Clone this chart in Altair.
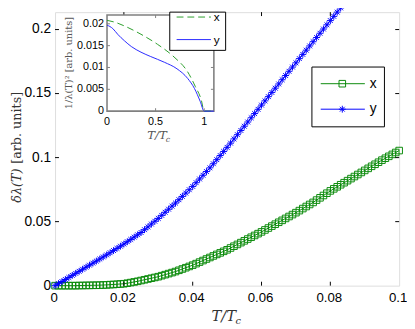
import altair as alt
import pandas as pd

# ---------------- data ----------------
SERIES = ["x", "y"]
T_MAIN = [i / 1000 for i in range(101)]
X_VALUES = [
    0.0000, 0.0000, 0.0000, 0.0000, 0.0000, 0.0000, 0.0000, 0.0001, 0.0001, 0.0002,
    0.0002, 0.0003, 0.0003, 0.0004, 0.0005, 0.0006, 0.0008, 0.0009, 0.0011, 0.0013,
    0.0015, 0.0019, 0.0024, 0.0029, 0.0034, 0.0040, 0.0046, 0.0052, 0.0058, 0.0064,
    0.0070, 0.0078, 0.0086, 0.0094, 0.0102, 0.0110, 0.0120, 0.0130, 0.0140, 0.0150,
    0.0160, 0.0172, 0.0184, 0.0196, 0.0208, 0.0220, 0.0232, 0.0244, 0.0256, 0.0268,
    0.0280, 0.0294, 0.0308, 0.0322, 0.0336, 0.0350, 0.0364, 0.0378, 0.0392, 0.0406,
    0.0420, 0.0435, 0.0450, 0.0465, 0.0480, 0.0495, 0.0510, 0.0525, 0.0540, 0.0555,
    0.0570, 0.0586, 0.0602, 0.0618, 0.0634, 0.0650, 0.0668, 0.0686, 0.0704, 0.0722,
    0.0740, 0.0756, 0.0772, 0.0788, 0.0804, 0.0820, 0.0836, 0.0852, 0.0868, 0.0884,
    0.0900, 0.0916, 0.0932, 0.0948, 0.0964, 0.0980, 0.0995, 0.1010, 0.1025, 0.1040,
    0.1055,
]
Y_VALUES = [
    0.0000, 0.0016, 0.0032, 0.0048, 0.0064, 0.0080, 0.0096, 0.0112, 0.0128, 0.0144,
    0.0160, 0.0176, 0.0192, 0.0208, 0.0224, 0.0240, 0.0257, 0.0274, 0.0291, 0.0308,
    0.0325, 0.0343, 0.0361, 0.0379, 0.0397, 0.0415, 0.0437, 0.0459, 0.0481, 0.0503,
    0.0525, 0.0549, 0.0573, 0.0597, 0.0621, 0.0645, 0.0671, 0.0697, 0.0723, 0.0749,
    0.0775, 0.0804, 0.0833, 0.0862, 0.0891, 0.0920, 0.0952, 0.0984, 0.1016, 0.1048,
    0.1080, 0.1113, 0.1146, 0.1179, 0.1212, 0.1245, 0.1278, 0.1311, 0.1344, 0.1377,
    0.1410, 0.1443, 0.1476, 0.1509, 0.1542, 0.1575, 0.1608, 0.1641, 0.1674, 0.1707,
    0.1740, 0.1773, 0.1806, 0.1839, 0.1872, 0.1905, 0.1938, 0.1971, 0.2004, 0.2037,
    0.2070, 0.2103, 0.2136, 0.2169, 0.2202, 0.2235,
]
INSET_T_X = [0, 0.09, 0.18, 0.35, 0.52, 0.69, 0.83, 0.91, 0.97, 1.0, 1.1]
INSET_X = [0.0208, 0.0203, 0.0195, 0.0176, 0.0153, 0.0124, 0.0090, 0.0056, 0.0026, 0.0, 0.0]
INSET_T_Y = [0, 0.06, 0.11, 0.18, 0.25, 0.35, 0.45, 0.59, 0.72, 0.83, 0.90, 0.96, 1.0, 1.1]
INSET_Y = [0.0197, 0.0189, 0.0176, 0.0161, 0.0148, 0.0135, 0.0125, 0.0112, 0.0097, 0.0075,
           0.0052, 0.0022, 0.0, 0.0]

MAIN_XTICKS = [0, 0.02, 0.04, 0.06, 0.08, 0.1]
MAIN_XLABELS = ["0", "0.02", "0.04", "0.06", "0.08", "0.1"]
MAIN_YTICKS = [0, 0.05, 0.1, 0.15, 0.2]
MAIN_YLABELS = ["0", "0.05", "0.1", "0.15", "0.2"]
INSET_XTICKS = [0, 0.5, 1]
INSET_XLABELS = ["0", "0.5", "1"]
INSET_YTICKS = [0, 0.005, 0.01, 0.015, 0.02]
INSET_YLABELS = ["0", "0.005", "0.01", "0.015", "0.02"]

# ---------------- layout / style ----------------
W, H = 351, 279
X_DOM = [0, 0.1]
Y_DOM = [0, 0.2136]
IX_DOM = [0, 1.1]
IY_DOM = [0, 0.022]
IX_RANGE = [53, 162]
IY_RANGE = [101, 3]

GREEN = "#0a8a0a"
BLUE = "#0000ff"
IGREEN = "#2a9e2a"
IBLUE = "#2828ff"
FRAME_GRAY = "#808080"
SANS = "Liberation Sans"
SERIF = "DejaVu Serif"
ASTERISK = "M-1,0L1,0M0,-1L0,1M-0.7,-0.7L0.7,0.7M-0.7,0.7L0.7,-0.7"

xs = alt.Scale(domain=X_DOM, nice=False, zero=False)
ys = alt.Scale(domain=Y_DOM, nice=False, zero=False)
ixs = alt.Scale(domain=IX_DOM, range=IX_RANGE, nice=False, zero=False)
iys = alt.Scale(domain=IY_DOM, range=IY_RANGE, nice=False, zero=False)

dfx = pd.DataFrame({"T": T_MAIN, "v": X_VALUES})
dfy = pd.DataFrame({"T": T_MAIN[:len(Y_VALUES)], "v": Y_VALUES})


def mx():
    return alt.X("T:Q", scale=xs, axis=None)


def my():
    return alt.Y("v:Q", scale=ys, axis=None)


def ix():
    return alt.X("T:Q", scale=ixs, axis=None)


def iy():
    return alt.Y("v:Q", scale=iys, axis=None)


green_line = alt.Chart(dfx).mark_line(color=GREEN, strokeWidth=1).encode(x=mx(), y=my())
green_pts = alt.Chart(dfx).mark_point(shape="square", filled=False, color=GREEN, size=45,
                                      strokeWidth=1, opacity=1).encode(x=mx(), y=my())
blue_line = alt.Chart(dfy).mark_line(color=BLUE, strokeWidth=1).encode(x=mx(), y=my())
blue_pts = alt.Chart(dfy).mark_point(shape=ASTERISK, filled=False, color=BLUE, size=49,
                                     strokeWidth=1, opacity=1).encode(x=mx(), y=my())

xt = pd.DataFrame({"T": MAIN_XTICKS[1:-1]})
yt = pd.DataFrame({"v": MAIN_YTICKS[1:]})
tick_b = alt.Chart(xt).mark_rule(color="black").encode(x=mx(), y=alt.value(H), y2=alt.value(H - 4))
tick_t = alt.Chart(xt).mark_rule(color="black").encode(x=mx(), y=alt.value(0), y2=alt.value(4))
tick_l = alt.Chart(yt).mark_rule(color="black").encode(y=my(), x=alt.value(0), x2=alt.value(4))
tick_r = alt.Chart(yt).mark_rule(color="black").encode(y=my(), x=alt.value(W), x2=alt.value(W - 4))

xl = pd.DataFrame({"T": MAIN_XTICKS, "lab": MAIN_XLABELS})
yl = pd.DataFrame({"v": MAIN_YTICKS, "lab": MAIN_YLABELS})
xlab = alt.Chart(xl).mark_text(font=SANS, fontSize=13.5, color="black", align="center",
                               baseline="alphabetic", dx=-1).encode(
    x=mx(), y=alt.value(H + 17), text="lab:N")
ylab = alt.Chart(yl).mark_text(font=SANS, fontSize=14, color="black", align="right",
                               baseline="middle").encode(y=my(), x=alt.value(-4), text="lab:N")

main = alt.layer(green_line, green_pts, blue_line, blue_pts, tick_b, tick_t, tick_l, tick_r,
                 xlab, ylab)

# ---------------- inset ----------------
bg_df = pd.DataFrame({"x0": [IX_DOM[0]], "x1": [IX_DOM[1]], "y0": [IY_DOM[0]], "y1": [IY_DOM[1]]})
inset_bg = alt.Chart(bg_df).mark_rect(fill="white", stroke=FRAME_GRAY, strokeWidth=1.6).encode(
    x=alt.X("x0:Q", scale=ixs, axis=None), x2="x1",
    y=alt.Y("y0:Q", scale=iys, axis=None), y2="y1")
idx = pd.DataFrame({"T": INSET_T_X, "v": INSET_X})
idy = pd.DataFrame({"T": INSET_T_Y, "v": INSET_Y})
inset_x = alt.Chart(idx).mark_line(color=IGREEN, strokeWidth=1, strokeDash=[7, 4],
                                   interpolate="monotone").encode(x=ix(), y=iy())
inset_y = alt.Chart(idy).mark_line(color=IBLUE, strokeWidth=1,
                                   interpolate="monotone").encode(x=ix(), y=iy())
ixt = pd.DataFrame({"T": INSET_XTICKS[1:]})
iyt = pd.DataFrame({"v": INSET_YTICKS[1:]})
itick_b = alt.Chart(ixt).mark_rule(color=FRAME_GRAY).encode(
    x=ix(), y=alt.value(IY_RANGE[0]), y2=alt.value(IY_RANGE[0] - 3))
itick_t = alt.Chart(ixt).mark_rule(color=FRAME_GRAY).encode(
    x=ix(), y=alt.value(IY_RANGE[1]), y2=alt.value(IY_RANGE[1] + 3))
itick_l = alt.Chart(iyt).mark_rule(color=FRAME_GRAY).encode(
    y=iy(), x=alt.value(IX_RANGE[0]), x2=alt.value(IX_RANGE[0] + 3))
itick_r = alt.Chart(iyt).mark_rule(color=FRAME_GRAY).encode(
    y=iy(), x=alt.value(IX_RANGE[1]), x2=alt.value(IX_RANGE[1] - 3))
ixl = pd.DataFrame({"T": INSET_XTICKS, "lab": INSET_XLABELS})
iyl = pd.DataFrame({"v": INSET_YTICKS, "lab": INSET_YLABELS})
ixlab = alt.Chart(ixl).mark_text(font=SANS, fontSize=11, color="black", align="center",
                                 baseline="alphabetic").encode(
    x=ix(), y=alt.value(IY_RANGE[0] + 14), text="lab:N")
iylab = alt.Chart(iyl).mark_text(font=SANS, fontSize=11, color="black", align="right",
                                 baseline="middle").encode(
    y=iy(), x=alt.value(IX_RANGE[0] - 3), text="lab:N")

inset = alt.layer(inset_bg, inset_x, inset_y, itick_b, itick_t, itick_l, itick_r, ixlab, iylab)

# ---------------- legends & titles ----------------
one = pd.DataFrame({"k": [0]})


def box(x0, x1, y0, y1):
    return alt.Chart(one).mark_rect(fill="white", stroke="black", strokeWidth=1).encode(
        x=alt.value(x0), x2=alt.value(x1), y=alt.value(y0), y2=alt.value(y1))


def seg(x0, x1, y, color, dash=None):
    kw = dict(color=color, strokeWidth=1)
    if dash:
        kw["strokeDash"] = dash
    return alt.Chart(one).mark_rule(**kw).encode(x=alt.value(x0), x2=alt.value(x1), y=alt.value(y))


def txt(s, x, y, size, font=SANS, style="normal", color="black", angle=0, align="left",
        baseline="middle"):
    return alt.Chart(one).mark_text(text=s, font=font, fontSize=size, fontStyle=style,
                                    color=color, angle=angle, align=align,
                                    baseline=baseline).encode(x=alt.value(x), y=alt.value(y))


def marker(shape, x, y, color, size):
    return alt.Chart(one).mark_point(shape=shape, filled=False, color=color, size=size,
                                     strokeWidth=1, opacity=1).encode(x=alt.value(x), y=alt.value(y))


legend_main = [
    box(262, 336, 56, 117),
    seg(271, 316, 73, GREEN), marker("square", 293, 73, GREEN, 45), txt(SERIES[0], 321, 73, 14),
    seg(271, 316, 99, BLUE), marker(ASTERISK, 293, 99, BLUE, 49), txt(SERIES[1], 321, 99, 14),
]
legend_inset = [
    box(117, 174, 0, 39),
    seg(124, 159, 5, IGREEN, [7, 4]), txt(SERIES[0], 162, 5, 12),
    seg(124, 159, 28, IBLUE), txt(SERIES[1], 162, 28, 12),
]
TITLE_C = "#333333"
titles = [
    txt("T/T", 172, 315, 15, font=SERIF, style="italic", color=TITLE_C, align="center",
        baseline="alphabetic"),
    txt("c", 184, 318, 10, font=SERIF, style="italic", color=TITLE_C, baseline="alphabetic"),
    txt("δλ(T)", -39, 177, 13, font=SERIF, style="italic", color=TITLE_C, angle=270,
        align="center"),
    txt("[arb. units]", -39, 118, 13, font=SERIF, color=TITLE_C, angle=270, align="center"),
    txt("1/λ(T)² [arb. units]", 14, 52, 10, font=SERIF, color="#555555", angle=270,
        align="center"),
    txt("T/T", 104, 129, 12, font=SERIF, style="italic", color="#555555", align="center",
        baseline="alphabetic"),
    txt("c", 113, 132, 8, font=SERIF, style="italic", color="#555555", baseline="alphabetic"),
]

deco = alt.layer(*legend_main, *legend_inset, *titles)

chart = alt.layer(main, inset, deco).resolve_scale(
    x="independent", y="independent").properties(
    width=W, height=H,
    autosize=alt.AutoSizeParams(type="none"),
    padding={"left": 48, "top": 1, "right": 8, "bottom": 41},
).configure_view(stroke="black", strokeWidth=1).configure(background="white")

chart.save("out.html", embed_options={"renderer": "svg", "actions": False})
